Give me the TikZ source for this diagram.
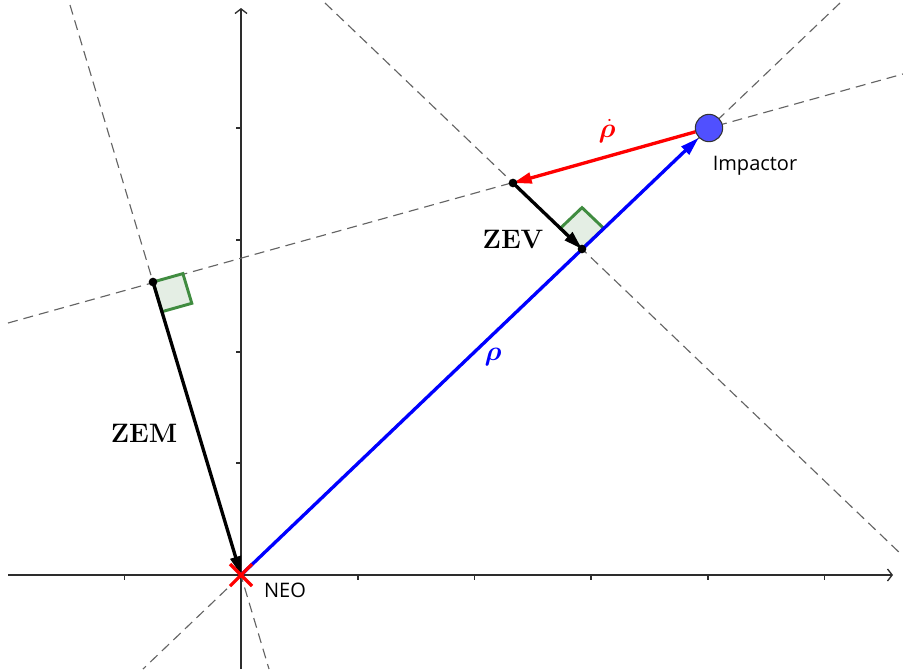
\documentclass[tikz,border=0pt]{standalone}
\usepackage{fontspec}
\usepackage{bm}
\newfontfamily\labfont{Open Sans}
\usetikzlibrary{arrows.meta,calc}
\definecolor{vblue}{RGB}{0,0,255}
\definecolor{vred}{RGB}{255,0,0}
\definecolor{rgreen}{RGB}{64,140,64}
\definecolor{rfill}{RGB}{228,238,228}
\definecolor{impfill}{RGB}{80,80,255}
\definecolor{dashgray}{RGB}{100,100,100}
\definecolor{axisgray}{RGB}{45,45,45}
\begin{document}
\begin{tikzpicture}[x=0.75pt,y=-0.75pt,
  axis/.style={axisgray,line width=1pt},
  axisarrow/.style={axis,-{Straight Barb[length=3.5pt,width=9pt,line width=1pt]}},
  tickmark/.style={axisgray,line width=0.8pt},
  guide/.style={dashgray,line width=0.85pt,dash pattern=on 7.5pt off 4.5pt},
  vec/.style={line width=2.5pt,-{Triangle[length=14pt,width=8pt]}},
  rangle/.style={draw=rgreen,fill=rfill,line width=2.2pt,line join=miter},
  dotpt/.style={circle,fill=black,inner sep=0pt,minimum size=6.5pt},
  sanslab/.style={font=\labfont\fontsize{15}{18}\selectfont,inner sep=0pt},
  boldlab/.style={font=\fontsize{20}{24}\selectfont\bfseries,inner sep=0pt},
  mathlab/.style={font=\fontsize{20}{24}\selectfont,inner sep=0pt}]
\useasboundingbox (0,0) rectangle (903,669);
% key points
\coordinate (O) at (241,575);
\coordinate (I) at (709,128);
\coordinate (Q) at (513,183);
\coordinate (P1) at (582,249);
\coordinate (Z) at (153,282);
% axes
\coordinate (xl) at (8,575);
\coordinate (xr) at (893,575);
\coordinate (yb) at (241,669);
\coordinate (yt) at (241,8);
\draw[axisarrow] (xl) -- (xr);
\draw[axisarrow] (yb) -- (yt);
\foreach \tx in {124.5,358,474.5,591,708,824.5}
  \draw[tickmark] (\tx,575) -- (\tx,580);
\foreach \ty in {128,240,352,463}
  \draw[tickmark] (236,\ty) -- (241,\ty);
% dashed guide lines
\coordinate (a1) at (8,323);
\coordinate (a2) at (903,74);
\coordinate (b1) at (70,5);
\coordinate (b2) at (269,669);
\coordinate (c1) at (325,3);
\coordinate (c2) at (903,556);
\coordinate (d1) at (840,3);
\coordinate (d2) at (143,669);
\draw[guide] (a1) -- (a2);
\draw[guide] (b1) -- (b2);
\draw[guide] (c1) -- (c2);
\draw[guide] (d1) -- (d2);
% right angle markers
\draw[rangle] (P1) -- (603.7,228.3) -- (582.0,207.6) -- (560.3,228.3) -- cycle;
\draw[rangle] (Z) -- (182.9,273.6) -- (191.8,303.3) -- (161.9,311.7) -- cycle;
% impactor
\node[circle,minimum size=20.5pt,inner sep=0pt,fill=impfill,draw=black!80,line width=0.8pt] (imp) at (I) {};
% vectors
\draw[vec,vblue] (O) -- (imp);
\draw[vec,vred] (imp) -- (Q);
\draw[vec,black] (Q) -- (P1);
\draw[vec,black] (Z) -- (O);
% points
\node[dotpt] (Qd) at (Q) {};
\node[dotpt] (Pd) at (P1) {};
\node[dotpt] (Zd) at (Z) {};
% NEO cross
\draw[vred,line width=2.4pt] ($(O)+(-11,-11)$) -- ($(O)+(11,11)$);
\draw[vred,line width=2.4pt] ($(O)+(-11,11)$) -- ($(O)+(11,-11)$);
% labels
\node[sanslab] (neo) at (285,590) {NEO};
\node[sanslab] (implab) at (755,166) {Impactor};
\node[boldlab] (zem) at (144,433) {ZEM};
\node[boldlab] (zev) at (513,239) {ZEV};
\node[mathlab,text=vred] (rhodot) at (607,131) {$\bm{\dot{\rho}}$};
\node[mathlab,text=vblue] (rho) at (493,357) {$\bm{\rho}$};
\end{tikzpicture}
\end{document}
